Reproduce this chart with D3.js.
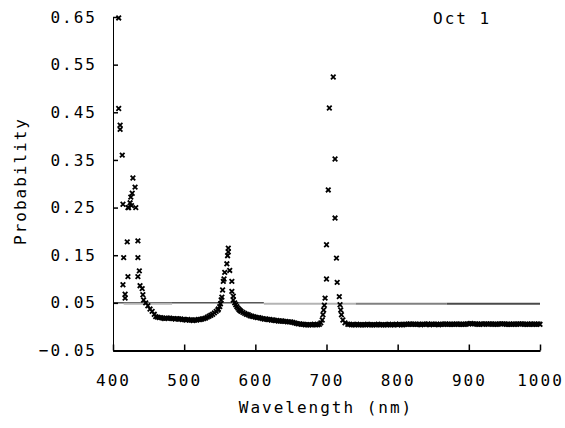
<!DOCTYPE html>
<html>
<head>
<meta charset="utf-8">
<script src="https://cdn.jsdelivr.net/npm/d3@7"></script>
<style>
  body { margin: 0; background: #fff; }
  text { font-family: "DejaVu Sans Mono", monospace; font-size: 16px; letter-spacing: 2px; fill: #000; }
</style>
</head>
<body>
<div class="chart"></div>
<script>
// wavelength (nm) and probability
const wl = [
  // blue end, scattered
  408, 408, 410, 410, 413, 414, 417, 417, 414, 415, 420, 421, 421, 422, 424, 425, 426, 427, 428,
  431, 432, 435, 435, 435, 437, 438, 441, 442, 443, 446, 449, 452, 455, 458,
  // trough
  460, 465, 470, 475, 480, 485, 490, 495, 500, 505, 510, 515, 520, 525, 530, 535, 540, 545, 548, 550,
  // green peak
  551, 552, 553, 554, 555, 556, 557, 560, 561, 562, 562, 564, 567, 567, 569, 569, 571,
  // tail after green peak
  574, 577, 580, 585, 590, 595, 600, 605, 610, 615, 620, 625, 630, 635, 640, 645, 650, 655, 660,
  665, 670, 675, 680, 685, 690,
  // red peak
  692, 694, 695, 696, 697, 698, 700, 700, 702.5, 704, 709.5, 712, 712, 714, 715, 718, 719, 720, 721, 723, 726,
  // flat infrared part
  730, 735, 740, 745, 750, 755, 760, 765, 770, 775, 780, 785, 790, 795, 800, 805, 810, 815, 820, 825,
  830, 835, 840, 845, 850, 855, 860, 865, 870, 875, 880, 885, 890, 895, 900, 905, 910, 915, 920, 925,
  930, 935, 940, 945, 950, 955, 960, 965, 970, 975, 980, 985, 990, 995, 1000
];
const prob = [
  0.648, 0.458, 0.423, 0.414, 0.360, 0.257, 0.068, 0.060, 0.088, 0.145, 0.178, 0.250, 0.105, 0.250, 0.260, 0.272, 0.254, 0.280, 0.312,
  0.293, 0.250, 0.180, 0.145, 0.105, 0.117, 0.086, 0.080, 0.067, 0.056, 0.050, 0.044, 0.037, 0.032, 0.026,
  0.021, 0.019, 0.018, 0.018, 0.018, 0.017, 0.017, 0.016, 0.015, 0.015, 0.014, 0.014, 0.015, 0.016, 0.018, 0.022, 0.026, 0.032, 0.037, 0.042,
  0.048, 0.056, 0.062, 0.077, 0.095, 0.100, 0.114, 0.132, 0.149, 0.157, 0.165, 0.118, 0.095, 0.074, 0.064, 0.056, 0.050,
  0.042, 0.036, 0.032, 0.028, 0.025, 0.022, 0.020, 0.019, 0.017, 0.016, 0.015, 0.014, 0.013, 0.012, 0.011, 0.010, 0.010, 0.008, 0.006,
  0.005, 0.004, 0.004, 0.004, 0.004, 0.005,
  0.008, 0.014, 0.025, 0.035, 0.045, 0.060, 0.100, 0.172, 0.287, 0.459, 0.524, 0.352, 0.228, 0.144, 0.093, 0.063, 0.046, 0.035, 0.025, 0.014, 0.008,
  0.005, 0.004, 0.004, 0.004, 0.004, 0.004, 0.004, 0.004, 0.004, 0.004, 0.004, 0.004, 0.004, 0.004, 0.004, 0.004, 0.005, 0.005, 0.005, 0.005,
  0.005, 0.005, 0.005, 0.004, 0.005, 0.005, 0.005, 0.005, 0.005, 0.005, 0.005, 0.005, 0.005, 0.005, 0.006, 0.006, 0.006, 0.005, 0.005, 0.006,
  0.006, 0.005, 0.005, 0.006, 0.006, 0.005, 0.005, 0.005, 0.006, 0.006, 0.005, 0.005, 0.005, 0.005, 0.005
];

// extra readings between the ones above, where the marks merge into a thick band
const wlBand = [
  462.5, 467.5, 472.5, 477.5, 482.5, 487.5, 492.5, 497.5, 502.5, 507.5, 512.5, 517.5, 522.5, 527.5, 532.5, 537.5, 542.5, 547.5,
  572.5, 575.5, 578.5, 582.5, 587.5, 592.5, 597.5, 602.5, 607.5, 612.5, 617.5, 622.5, 627.5, 632.5, 637.5, 642.5, 647.5,
  652.5, 657.5, 662.5, 667.5, 672.5, 677.5, 682.5, 687.5,
  732.5, 737.5, 742.5, 747.5, 752.5, 757.5, 762.5, 767.5, 772.5, 777.5, 782.5, 787.5, 792.5, 797.5, 802.5, 807.5, 812.5, 817.5,
  822.5, 827.5, 832.5, 837.5, 842.5, 847.5, 852.5, 857.5, 862.5, 867.5, 872.5, 877.5, 882.5, 887.5, 892.5, 897.5, 902.5, 907.5,
  912.5, 917.5, 922.5, 927.5, 932.5, 937.5, 942.5, 947.5, 952.5, 957.5, 962.5, 967.5, 972.5, 977.5, 982.5, 987.5, 992.5, 997.5
];
const probBand = [
  0.020, 0.019, 0.017, 0.018, 0.017, 0.016, 0.016, 0.015, 0.014, 0.014, 0.013, 0.014, 0.015, 0.017, 0.020, 0.024, 0.029, 0.035,
  0.046, 0.039, 0.034, 0.030, 0.026, 0.023, 0.021, 0.019, 0.018, 0.016, 0.015, 0.014, 0.013, 0.012, 0.012, 0.011, 0.010,
  0.009, 0.007, 0.006, 0.005, 0.004, 0.004, 0.005, 0.004,
  0.005, 0.004, 0.005, 0.004, 0.004, 0.005, 0.004, 0.004, 0.005, 0.004, 0.004, 0.005, 0.004, 0.005, 0.005, 0.004, 0.005, 0.006,
  0.005, 0.005, 0.004, 0.005, 0.006, 0.005, 0.005, 0.004, 0.005, 0.006, 0.005, 0.005, 0.006, 0.005, 0.005, 0.006, 0.007, 0.006,
  0.005, 0.006, 0.006, 0.005, 0.006, 0.005, 0.006, 0.006, 0.005, 0.005, 0.006, 0.005, 0.006, 0.005, 0.005, 0.006, 0.005, 0.006
];

// the 0.05 reference line is drawn in pieces of different grey
const threshold = 0.05;
const lineParts = [[400, 612], [415, 483], [612, 741], [741, 869], [869, 1000]];
const lineColors = ["#000", "#b4b4b4", "#b4b4b4", "#808080", "#4a4a4a"];

const xTicks = [400, 500, 600, 700, 800, 900, 1000];
const yTicks = [-0.05, 0.05, 0.15, 0.25, 0.35, 0.45, 0.55, 0.65];

const width = 565;
const height = 428;

const svg = d3.select(".chart")
  .append("svg")
  .attr("width", width)
  .attr("height", height);

const x = d3.scaleLinear().domain([400, 1000]).range([113, 540]);
const y = d3.scaleLinear().domain([-0.05, 0.65]).range([350.5, 17]);

// reference line
svg.selectAll("line.thr")
  .data(lineParts)
  .enter()
  .append("line")
  .attr("class", "thr")
  .attr("x1", d => x(d[0]))
  .attr("x2", d => x(d[1]))
  .attr("y1", (d, i) => y(threshold) + (i == 0 ? 0 : 1))
  .attr("y2", (d, i) => y(threshold) + (i == 0 ? 0 : 1))
  .attr("stroke", (d, i) => lineColors[i])
  .attr("stroke-width", (d, i) => i == 0 ? 1 : 2);

// points
const points = wl.map((d, i) => ({ w: d, p: prob[i] }))
  .concat(wlBand.map((d, i) => ({ w: d, p: probBand[i] })));

svg.selectAll("path.pt")
  .data(points)
  .enter()
  .append("path")
  .attr("class", "pt")
  .attr("transform", d => `translate(${x(d.w)},${y(d.p)})`)
  .attr("d", "M-2.3,-2.3L2.3,2.3M-2.3,2.3L2.3,-2.3")
  .attr("stroke", "#000")
  .attr("stroke-width", 1.8)
  .attr("fill", "none");

// axes
const yAxis = svg.append("g")
  .attr("transform", `translate(${x(400)},0)`)
  .call(d3.axisLeft(y).tickValues(yTicks).tickFormat(d3.format(".2f"))
    .tickSizeInner(-5).tickSizeOuter(0).tickPadding(16));

const xAxis = svg.append("g")
  .attr("transform", `translate(0,${y(-0.05)})`)
  .call(d3.axisBottom(x).tickValues(xTicks).tickFormat(d3.format("d"))
    .tickSizeInner(-6).tickSizeOuter(0).tickPadding(24));

yAxis.select(".domain").attr("stroke", "#000").attr("stroke-width", 1);
xAxis.select(".domain").attr("stroke", "#000").attr("stroke-width", 2);
svg.selectAll(".tick line").attr("stroke", "#000").attr("stroke-width", 1.5);
svg.selectAll(".tick text")
  .style("font-family", "DejaVu Sans Mono, monospace")
  .style("font-size", "16px");

// titles
svg.append("text")
  .attr("x", 326)
  .attr("y", 413)
  .attr("text-anchor", "middle")
  .text("Wavelength (nm)");

svg.append("text")
  .attr("transform", "translate(26,181) rotate(-90)")
  .attr("text-anchor", "middle")
  .text("Probability");

svg.append("text")
  .attr("x", 433)
  .attr("y", 24)
  .text("Oct 1");
</script>
</body>
</html>
